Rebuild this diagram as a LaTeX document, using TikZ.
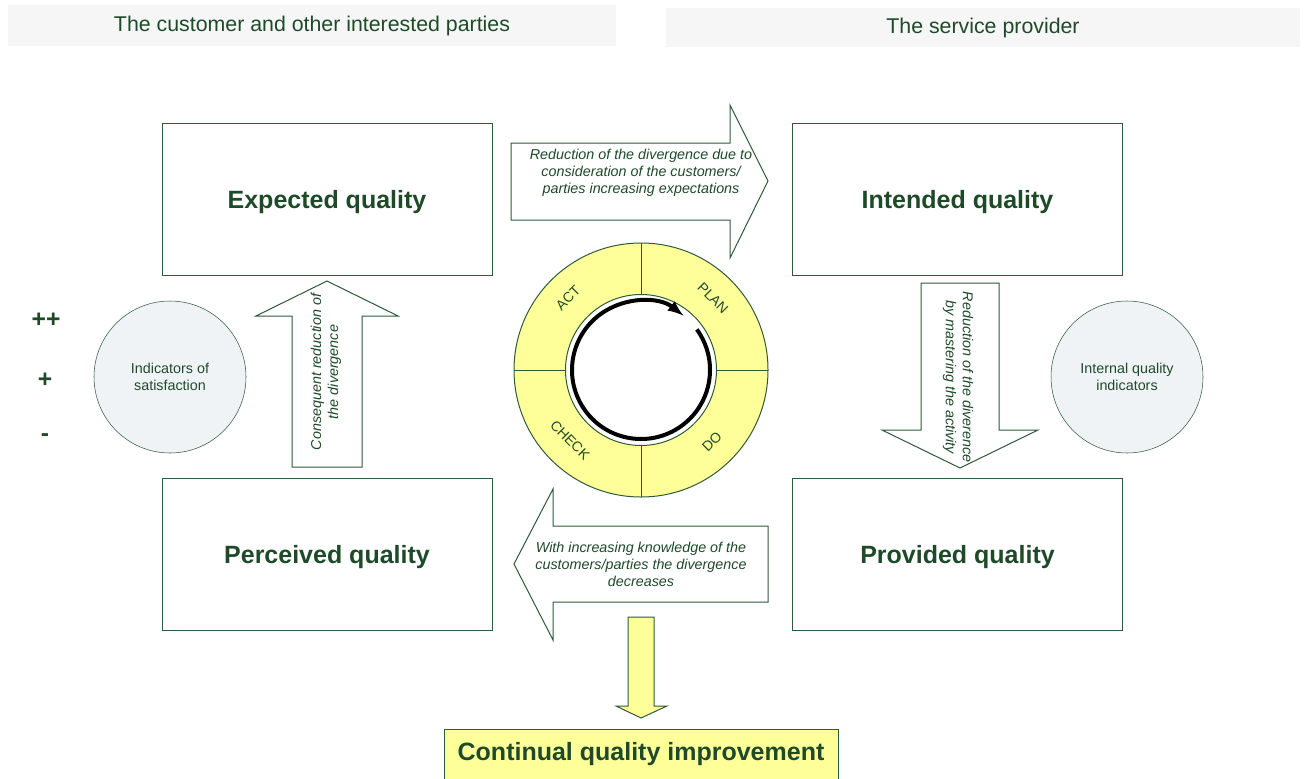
\documentclass[tikz,border=0pt]{standalone}
\usepackage{fontspec}
\setmainfont{Liberation Sans}
\definecolor{qgreen}{HTML}{1E4A2A}
\definecolor{qline}{HTML}{2F5A3A}
\definecolor{qyellow}{HTML}{FFFF99}
\definecolor{qhead}{HTML}{F6F6F6}
\definecolor{qdisc}{HTML}{F0F3F6}
\tikzset{
  qbox/.style={draw=qline,fill=white,minimum width=247.5pt,minimum height=114pt,text depth=0pt,
    text=qgreen,font=\bfseries\fontsize{18.75}{22}\selectfont},
  head/.style={fill=qhead,text=qgreen,font=\fontsize{16}{19}\selectfont},
  disc/.style={draw=qline,fill=qdisc,circle,minimum size=114pt,align=center,
    text=qgreen,font=\fontsize{10.75}{12.75}\selectfont},
  note/.style={align=center,text=qgreen,font=\itshape\fontsize{10.75}{12.75}\selectfont},
  phase/.style={text=qgreen,inner sep=0pt,font=\fontsize{10.5}{12}\selectfont},
  rating/.style={text=qgreen,font=\bfseries\fontsize{18.5}{21}\selectfont},
  blockarrow/.style={draw=qline,fill=white,line width=0.75pt}
}
\begin{document}
\begin{tikzpicture}[x=0.75pt,y=-0.75pt]
\useasboundingbox (0,0) rectangle (1306,778);
% the two parties
\node [head,minimum width=456pt,minimum height=30.75pt] (customer) at (312,25.5) {The customer and other interested parties};
\node [head,minimum width=475.5pt,minimum height=29.25pt] (provider) at (983,27.5) {The service provider};
% quality boxes
\node [qbox] (expected) at (327,199) {Expected quality};
\node [qbox] (intended) at (957.5,199) {Intended quality};
\node [qbox] (perceived) at (327,554) {Perceived quality};
\node [qbox] (provided) at (957.5,554) {Provided quality};
% block arrows between the boxes
\draw [blockarrow] (511,143)--(730,143)--(730,105)--(768,181)--(730,258)--(730,220)--(511,220)--cycle;
\node [note] (expect2intend) at (641,173) {Reduction of the divergence due to\\consideration of the customers/\\parties increasing expectations};
\draw [blockarrow] (921,283)--(999,283)--(999,430)--(1038,430)--(960,468)--(882,430)--(921,430)--cycle;
\node [note,rotate=-90] (intend2provide) at (958,377) {Reduction of the diverence\\by mastering the activity};
\draw [blockarrow] (768,526)--(553,526)--(553,489)--(514,564)--(553,640)--(553,602)--(768,602)--cycle;
\node [note] (provide2perceive) at (641,564) {With increasing knowledge of the\\customers/parties the divergence\\decreases};
\draw [blockarrow] (292,467)--(292,316)--(256,316)--(327,281)--(398,316)--(362,316)--(362,467)--cycle;
\node [note,rotate=90] (perceive2expect) at (326,372) {Consequent reduction of\\the divergence};
% PDCA wheel
\coordinate (pdca) at (641,370);
\fill [qyellow,even odd rule] (pdca) circle (127) circle (75.5);
\draw [qline,line width=0.75pt] (pdca) circle (127);
\draw [qline,line width=0.75pt] (pdca) circle (75.5);
\foreach \a in {0,90,180,270} \draw [qline,line width=0.75pt] (pdca) ++(\a:75.5) -- ++(\a:51.5);
\node [phase,rotate=45] (act) at (568,298) {ACT};
\node [phase,rotate=-45] (plan) at (713,298) {PLAN};
\node [phase,rotate=-45] (check) at (570,440) {CHECK};
\node [phase,rotate=45] (do) at (712,442) {DO};
\draw [line width=3pt,-latex] (pdca) ++(-36:69) arc (-36:308:69);
% indicators
\node [disc] (satisfaction) at (170,377) {Indicators of\\satisfaction};
\node [disc] (internal) at (1127,377) {Internal quality\\indicators};
\node [rating] (plusplus) at (46,320) {++};
\node [rating] (plus) at (45,380) {+};
\node [rating] (minus) at (45,438) {-};
% improvement
\draw [blockarrow,fill=qyellow] (628,617)--(654,617)--(654,706)--(667,706)--(641,718)--(616,706)--(628,706)--cycle;
\node [draw=qline,fill=qyellow,minimum width=295.5pt,minimum height=38pt,text=qgreen,
  font=\bfseries\fontsize{18.75}{22}\selectfont] (improvement) at (641,754.5) {Continual quality improvement};
\end{tikzpicture}
\end{document}
